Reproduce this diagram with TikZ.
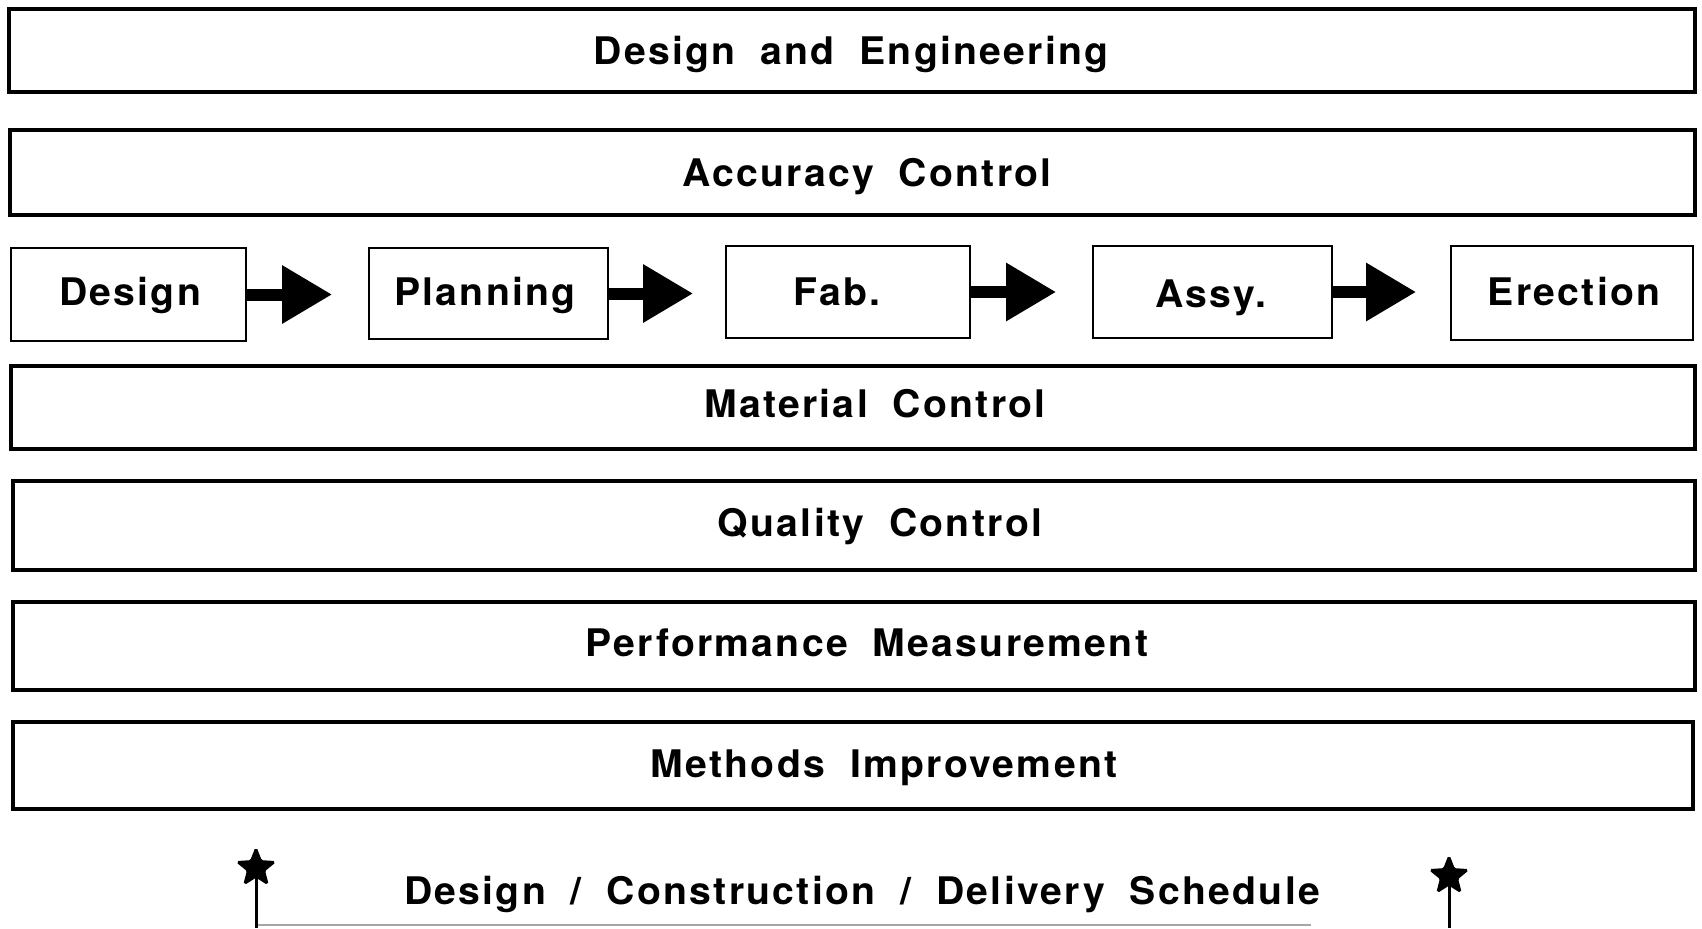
\documentclass[tikz,border=0pt]{standalone}
\usepackage{fontspec}
\setmainfont{TeX Gyre Heros}[LetterSpace=6, WordSpace=1.9, FakeStretch=1.03]
\usetikzlibrary{arrows.meta,shapes.geometric}
\tikzset{
  bar/.style={draw, line width=1.6pt, inner sep=0pt, rectangle},
  procbox/.style={draw, line width=1.2pt, inner sep=0pt, rectangle},
  lbl/.style={inner sep=0pt, anchor=base, font=\fontsize{19pt}{21pt}\selectfont\bfseries},
  fatarrow/.style={line width=6pt, -{Triangle[length=25pt, width=27.5pt]}},
  starmark/.style={star, star points=5, star point ratio=2.3, fill=black, draw=black, line width=1pt, rounded corners=0.8pt, minimum size=19.5pt, inner sep=0pt},
  stem/.style={line width=1.5pt},
}
\begin{document}
\begin{tikzpicture}[x=0.5pt, y=-0.5pt]
\useasboundingbox (0,0) rectangle (1702,928);
% long bars
\node[bar, minimum width=843pt, minimum height=41.5pt] (b1) at (852,50.5) {};
\node[bar, minimum width=842.5pt, minimum height=42.5pt] (b2) at (852.5,172.5) {};
\node[bar, minimum width=842pt, minimum height=41.5pt] (b3) at (853,407.5) {};
\node[bar, minimum width=841pt, minimum height=44.5pt] (b4) at (854,525.5) {};
\node[bar, minimum width=841pt, minimum height=44pt] (b5) at (854,646) {};
\node[bar, minimum width=840pt, minimum height=43.5pt] (b6) at (853,765.5) {};
\node[lbl] (t1) at (851,64) {Design and Engineering};
\node[lbl] (t2) at (867,186.5) {Accuracy Control};
\node[lbl] (t3) at (875,417.5) {Material Control};
\node[lbl] (t4) at (880,536) {Quality Control};
\node[lbl] (t5) at (867,656.5) {Performance Measurement};
\node[lbl] (t6) at (884,777) {Methods Improvement};
% process row
\node[procbox, minimum width=117.5pt, minimum height=46.5pt] (p1) at (128.5,294.5) {};
\node[procbox, minimum width=119.5pt, minimum height=45.5pt] (p2) at (488.5,293.5) {};
\node[procbox, minimum width=122pt, minimum height=46pt] (p3) at (848,292) {};
\node[procbox, minimum width=119.5pt, minimum height=46pt] (p4) at (1212.5,292) {};
\node[procbox, minimum width=121pt, minimum height=47pt] (p5) at (1572,293) {};
\node[lbl] (q1) at (130,305) {Design};
\node[lbl] (q2) at (485,305) {Planning};
\node[lbl] (q3) at (837,305) {Fab.};
\node[lbl] (q4) at (1211,307) {Assy.};
\node[lbl] (q5) at (1574,305) {Erection};
\draw[fatarrow] (p1.east) -- ++(85,0);
\draw[fatarrow] (p2.east) -- ++(84,0);
\draw[fatarrow] (p3.east) -- ++(85,0);
\draw[fatarrow] (p4.east) -- ++(83,0);
% schedule
\node[lbl] (sch) at (862,904) {Design / Construction / Delivery Schedule};
\node[starmark] (s1) at (256,868) {};
\node[starmark] (s2) at (1449,876) {};
\coordinate (e1) at (256,928);
\coordinate (e2) at (1449,928);
\draw[stem] (s1.center) -- (e1);
\draw[stem] (s2.center) -- (e2);
\coordinate (h1) at (258,925);
\coordinate (h2) at (1311,925);
\draw[gray!70, line width=1pt] (h1) -- (h2);
\end{tikzpicture}
\end{document}
